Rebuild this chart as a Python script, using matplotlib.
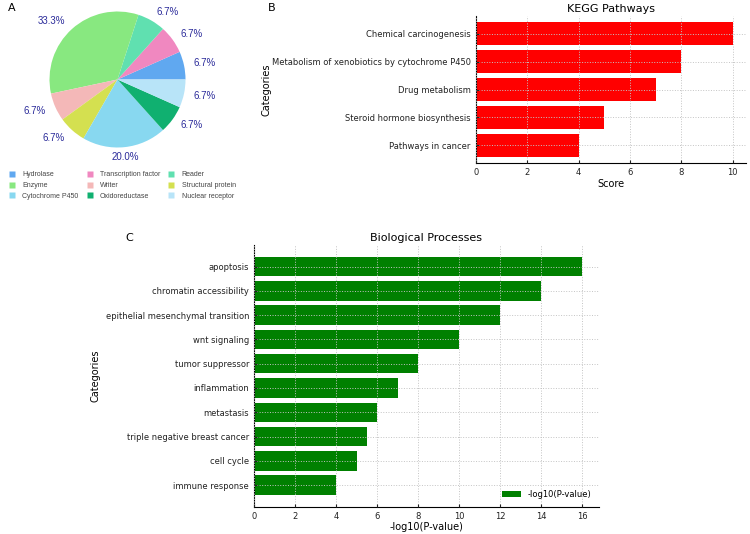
import numpy as np
import matplotlib.pyplot as plt
from matplotlib.lines import Line2D

# panel A - protein classes
pie_labels = ['Hydrolase', 'Transcription factor', 'Reader', 'Enzyme', 'Writer',
              'Structural protein', 'Cytochrome P450', 'Oxidoreductase', 'Nuclear receptor']
pie_counts = [1, 1, 1, 5, 1, 1, 3, 1, 1]
pie_colors = ['#60a8f0', '#f088c0', '#60e0b0', '#88e880', '#f4b8b8',
              '#d4e050', '#88d8f0', '#10b070', '#b8e4f8']

# panel B - KEGG
kegg_terms = ['Chemical carcinogenesis', 'Metabolism of xenobiotics by cytochrome P450',
              'Drug metabolism', 'Steroid hormone biosynthesis', 'Pathways in cancer']
kegg_scores = [10, 8, 7, 5, 4]

# panel C - biological processes
bp_terms = ['apoptosis', 'chromatin accessibility', 'epithelial mesenchymal transition',
            'wnt signaling', 'tumor suppressor', 'inflammation', 'metastasis',
            'triple negative breast cancer', 'cell cycle', 'immune response']
bp_scores = [16, 14, 12, 10, 8, 7, 6, 5.5, 5, 4]

W, H = 750, 534
fig = plt.figure(figsize=(7.5, 5.34), dpi=100)


def rect(x0, y0, x1, y1):
    return [x0 / W, 1 - y1 / H, (x1 - x0) / W, (y1 - y0) / H]


# ---- A: pie
axA = fig.add_axes(rect(49.5, 11.5, 185.5, 147.5))
total = sum(pie_counts)
pct_text = ['%.1f%%' % (100 * c / total) for c in pie_counts]
wedges, texts = axA.pie(pie_counts, colors=pie_colors, startangle=0, counterclock=True,
                        labels=pct_text, labeldistance=1.15,
                        textprops=dict(color='#2b2b9a', fontsize=7, family='Liberation Sans'))
for w, t in zip(wedges, texts):
    ang = np.deg2rad((w.theta1 + w.theta2) / 2)
    if abs(np.cos(ang)) < 0.2:
        t.set_ha('center')
axA.set_aspect('equal')
axA.set_xlim(-1, 1)
axA.set_ylim(-1, 1)

# legend, row-major like the original
order = [0, 3, 6, 1, 4, 7, 2, 5, 8]
handles = [Line2D([], [], marker='s', ls='none', markersize=4.5,
                  markerfacecolor=pie_colors[i], markeredgecolor='none') for i in order]
fig.legend(handles, [pie_labels[i] for i in order], ncol=3, frameon=False,
           loc='upper left', bbox_to_anchor=(2 / W, 1 - 165 / H),
           prop=dict(family='Liberation Sans', size=5), labelcolor='#444444',
           handlelength=1.0, handletextpad=1.0, columnspacing=1.1, labelspacing=0.55)


def style_bar_axes(ax):
    ax.spines['top'].set_visible(False)
    ax.spines['right'].set_visible(False)
    ax.tick_params(direction='in', labelsize=6, length=2.5, colors='#222222')
    ax.grid(True, linestyle=':', color='#c4c4c4', linewidth=0.7)
    ax.set_axisbelow(False)


# ---- B: KEGG
axB = fig.add_axes(rect(475.7, 15.7, 745.7, 163.3))
yB = np.arange(len(kegg_terms))
axB.barh(yB, kegg_scores, height=0.8, color='red')
axB.set_yticks(yB)
axB.set_yticklabels(kegg_terms)
axB.invert_yaxis()
axB.set_title('KEGG Pathways', fontsize=8, pad=3)
axB.set_xlabel('Score', fontsize=7, labelpad=1)
axB.set_ylabel('Categories', fontsize=7, labelpad=0)
style_bar_axes(axB)

# ---- C: biological processes
axC = fig.add_axes(rect(254, 245, 598.7, 506.7))
yC = np.arange(len(bp_terms))
axC.barh(yC, bp_scores, height=0.8, color='green', label='-log10(P-value)')
axC.set_yticks(yC)
axC.set_yticklabels(bp_terms)
axC.invert_yaxis()
axC.set_title('Biological Processes', fontsize=8, pad=3)
axC.set_xlabel('-log10(P-value)', fontsize=7, labelpad=1)
axC.set_ylabel('Categories', fontsize=7, labelpad=4)
style_bar_axes(axC)
axC.legend(loc='lower right', frameon=False, fontsize=6, handlelength=2.2)

# panel letters
fig.text(8 / W, 1 - 8 / H, 'A', fontsize=8, va='center', ha='left')
fig.text(268 / W, 1 - 8 / H, 'B', fontsize=8, va='center', ha='left')
fig.text(125 / W, 1 - 238 / H, 'C', fontsize=8, va='center', ha='left')

fig.savefig('out.png', dpi=100)
